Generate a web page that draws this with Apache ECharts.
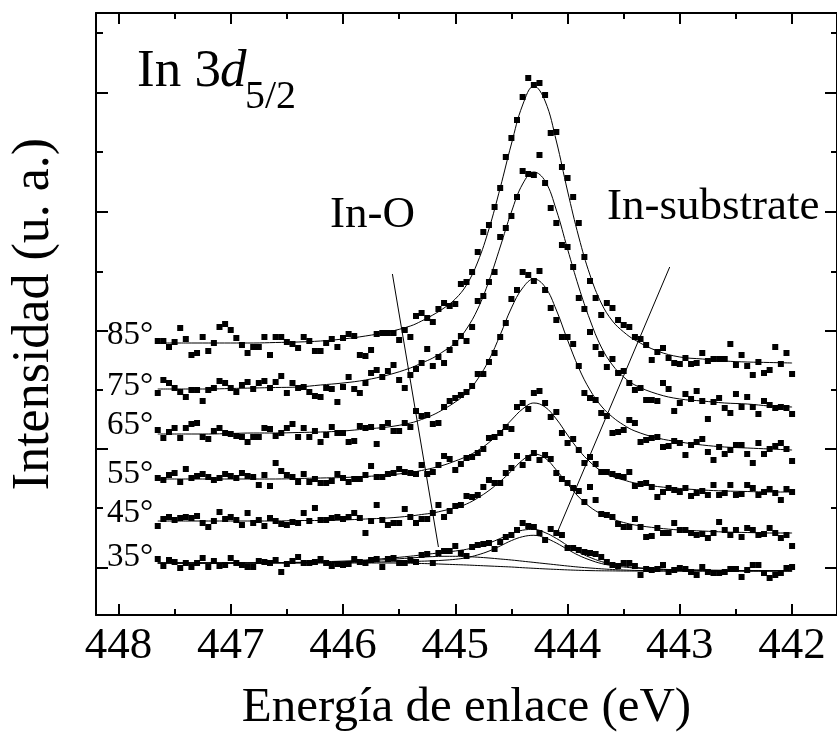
<!DOCTYPE html>
<html>
<head>
<meta charset="utf-8">
<title>In 3d5/2</title>
<script src="https://cdn.jsdelivr.net/npm/echarts@6.0.0/dist/echarts.min.js"></script>
<style>
html,body{margin:0;padding:0;background:#fff;}
#chart{width:837px;height:738px;}
</style>
</head>
<body>
<div id="chart"></div>
<script>
// ---------------- data (binding energy in eV, intensity in arbitrary units) ----------------
const energy = [447.65,447.6,447.55,447.5,447.45,447.4,447.35,447.3,447.25,447.2,447.15,447.1,447.05,447.0,
446.95,446.9,446.85,446.8,446.75,446.7,446.65,446.6,446.55,446.5,446.45,446.4,446.35,446.3,446.25,446.2,446.15,446.1,446.05,446.0,
445.95,445.9,445.85,445.8,445.75,445.7,445.65,445.6,445.55,445.5,445.45,445.4,445.35,445.3,445.25,445.2,445.15,445.1,445.05,445.0,
444.95,444.9,444.85,444.8,444.75,444.7,444.65,444.6,444.55,444.5,444.45,444.4,444.35,444.3,444.25,444.2,444.15,444.1,444.05,444.0,
443.95,443.9,443.85,443.8,443.75,443.7,443.65,443.6,443.55,443.5,443.45,443.4,443.35,443.3,443.25,443.2,443.15,443.1,443.05,443.0,
442.95,442.9,442.85,442.8,442.75,442.7,442.65,442.6,442.55,442.5,442.45,442.4,442.35,442.3,442.25,442.2,442.15,442.1,442.05,442.0];

const angles = ['85°','75°','65°','55°','45°','35°'];

const counts85 = [274,274,268,273,287,276,260,262,278,264,272,288,291,285,277,270,262,268,268,278,
260,278,278,273,271,267,278,274,264,264,272,276,268,277,281,279,260,259,265,281,
282,282,282,275,285,278,299,302,297,293,306,312,309,311,331,333,343,363,383,390,
408,427,458,477,495,518,537,530,532,520,482,483,448,437,418,392,358,334,317,300,
312,307,295,290,288,278,276,270,255,263,267,257,252,251,257,251,252,262,254,256,
256,256,271,250,260,249,240,253,242,245,268,251,262,241];
const counts75 = [222,235,232,227,223,218,225,225,214,225,227,234,232,227,223,230,233,226,232,234,
227,233,239,222,232,227,228,223,219,218,227,226,213,228,238,226,222,232,242,245,
238,244,250,235,227,240,246,252,266,249,258,252,265,272,279,274,288,314,319,333,
343,378,387,399,418,444,441,440,460,432,407,392,370,368,348,317,306,283,268,261,
248,256,242,244,232,225,227,215,215,214,232,226,204,212,221,216,224,214,196,213,
217,207,202,221,208,218,208,201,214,210,207,208,207,201];
const counts65 = [185,177,183,187,177,187,191,192,178,176,184,187,182,181,179,178,173,178,178,187,
186,179,182,187,191,178,187,178,184,173,180,188,182,182,173,174,189,187,188,171,
188,192,184,184,192,188,204,199,200,191,192,208,214,217,220,223,229,241,241,253,
262,278,292,316,325,343,340,334,344,325,307,295,278,278,271,249,222,217,215,202,
199,182,183,185,195,192,173,175,177,178,168,169,174,172,160,170,173,176,163,155,
168,161,165,170,170,161,152,172,161,166,169,172,166,154];
const counts55 = [137,135,140,142,133,146,137,139,141,138,135,137,141,139,137,142,139,138,130,140,
129,152,144,140,138,133,141,133,136,132,132,134,141,137,133,136,136,140,149,138,
138,141,142,146,143,142,141,150,141,143,150,159,156,145,151,157,158,162,166,177,
178,182,188,186,208,212,206,222,224,212,198,203,182,172,176,165,152,158,151,143,
143,141,139,138,143,129,131,132,128,118,123,127,125,123,127,119,122,124,120,130,
120,122,130,120,121,130,127,120,123,126,122,115,126,123];
const counts45 = [89,96,98,95,97,98,97,99,92,88,94,103,96,98,95,90,102,92,95,89,
97,94,91,90,93,92,102,94,107,95,95,97,98,96,98,102,97,82,94,110,
95,90,92,92,106,98,92,96,96,102,110,98,104,109,110,119,118,120,128,135,
132,132,142,147,159,150,157,162,155,160,156,142,136,132,127,124,113,128,115,101,
100,98,91,88,88,96,88,78,79,87,82,82,92,85,85,82,80,81,77,82,
93,85,80,85,78,87,85,80,81,87,82,77,80,69];
const counts35 = [56,49,55,53,47,52,48,52,57,48,54,49,50,57,52,50,48,48,54,53,
52,55,43,51,54,58,52,52,53,56,52,49,51,50,51,56,53,52,55,56,
48,56,57,52,52,55,53,60,61,52,62,64,64,69,62,59,68,70,71,72,
66,73,78,80,85,92,89,88,82,75,86,82,80,67,67,65,63,62,61,58,
53,50,49,52,52,49,40,46,45,46,50,43,45,47,46,43,40,48,43,42,
42,43,46,46,38,45,50,50,42,37,40,42,47,48];

// fitted envelopes
const fitEnergy = [447.65,447.4,447.2,447.0,446.8,446.6,446.4,446.2,446.0,445.8,445.6,
445.4,445.3,445.2,445.1,445.0,444.9,444.8,444.7,444.6,444.5,444.4,444.3,444.2,444.1,444.0,443.9,443.8,443.7,443.6,443.5,443.4,
443.2,443.0,442.8,442.6,442.4,442.2,442.0];
const fit85 = [272,272,272,272,272,272.5,273,274,276,279,283,
289,294,300,307,316,330,353,386,427,471,510,529,514,474,424,378,340,312,294,283,275,
264,258,256,254,253,252.5,252];
const fit75 = [226,226,226,226.5,227,227.5,228,230,232,235,240,
247,252,257,264,272,286,306,334,368,403,431,443,434,405,366,328,295,268,250,238,230,
221,216,214,212,211,209,208];
const fit65 = [181,181,181,181.5,182,182,182.5,183,184,186,188,
192,195.5,200,206,213,222,236,255,280,307,327,336,328,305,275,247,225,209,198,190,184,
177,173,170,168,167,166,165];
const fit55 = [136,136,136,136,136,136,136.5,137,137.5,138.5,140,
142.5,144.5,147,150,154,158.5,164.5,172.5,183,195,206,212,208,196,180,165,153,144,138.5,135,132,
128.5,126.5,125,124,123.5,123,123];
const fit45 = [94,94,94,94,94,94,94.5,94.5,95,96,97,
99,100.5,102,104.5,107,111,117,124.5,133.5,144,155,161,157,145,131,118,108,101,96,92.5,90,
87,85,84,83,82.5,82,82];
const fit35 = [52,52,52,52,52.1,52.4,52.7,53.2,53.9,55,56.7,
58.8,60.1,61.4,62.7,64,65.7,68.4,71.9,76.5,81.4,84.8,85.6,82.4,76.6,69.5,62.8,57.6,53.5,50.8,49,47.6,
46,45.2,44.8,44.6,44.4,44.3,44.2];
// 35° deconvolution: background, In-O component and In-substrate component (each drawn on top of the background)
const background35 = [52,52,52,52,52,52,52,52,52,52,52,
51.8,51.5,51.2,50.8,50.4,50,49.5,49,48.5,48,47.3,46.7,46.1,45.6,45.1,44.7,44.4,44.2,44.1,44,44,
44,44,44,44,44,44,44];
const inO35 = [52,52,52,52,52,52.2,52.4,52.8,53.3,54.2,55.5,
57,57.8,58.4,58.7,58.7,58.4,57.8,57,56,55,53.8,52.6,51.4,50.2,49,47.9,47,46.2,45.5,45,44.6,
44.2,44,44,44,44,44,44];
const inSubstrate35 = [52,52,52,52,52.1,52.2,52.3,52.4,52.6,52.8,53.2,
53.6,53.8,54.2,54.8,55.7,57.3,60.1,63.9,69,74.4,78.3,79.7,77.1,72,65.6,59.6,55,51.5,49.4,48,47,
45.8,45.2,44.8,44.6,44.4,44.3,44.2];

// axis ticks
const xMajorTicks = [448,447,446,445,444,443,442];
const xMinorTicks = [447.5,446.5,445.5,444.5,443.5,442.5];
const yMajorTicks = [47,166,284,403,522];
const yMinorTicks = [107,225,343,463,582];

// annotation arrows [start, end] in data coordinates
const arrowInO = [[445.56,341],[445.15,68]];
const arrowInSub = [[443.09,348],[444.09,83]];

// ---------------- chart ----------------
const FONT = '"Liberation Serif", "Times New Roman", serif';
const pair = (xs, ys) => xs.map((x, i) => [x, ys[i]]);
const countSets = [counts85, counts75, counts65, counts55, counts45, counts35];
const fitSets = [fit85, fit75, fit65, fit55, fit45, fit35];

const series = [];
countSets.forEach((arr, k) => {
  series.push({
    type: 'scatter', name: angles[k], data: pair(energy, arr),
    symbol: 'rect', symbolSize: 6, itemStyle: { color: '#000', opacity: 1 }, z: 3
  });
});
const lineOf = (name, ys, extra) => Object.assign({
  type: 'line', name: name, data: pair(fitEnergy, ys), smooth: 0.4,
  symbol: 'none', showSymbol: false, lineStyle: { color: '#000', width: 1 }, z: 2
}, extra || {});
fitSets.forEach((arr, k) => series.push(lineOf('fit ' + angles[k], arr)));
series.push(lineOf('fondo 35°', background35));
series.push(lineOf('In-O 35°', inO35));
series.push(lineOf('In-substrate 35°', inSubstrate35, {
  markLine: {
    silent: true, animation: false, symbol: ['none', 'arrow'], symbolSize: [0, 11],
    label: { show: false },
    lineStyle: { color: '#000', width: 1, type: 'solid' },
    data: [
      [{ coord: arrowInO[0] }, { coord: arrowInO[1] }],
      [{ coord: arrowInSub[0] }, { coord: arrowInSub[1] }]
    ]
  }
}));

const axisBase = (extra) => Object.assign({
  type: 'value', gridIndex: 0, splitLine: { show: false },
  axisLine: { show: false, onZero: false, lineStyle: { color: '#000', width: 2 } },
  axisLabel: { show: false }
}, extra);

const xCommon = { min: 441.6, max: 448.2, inverse: true };
const yCommon = { min: 0, max: 602 };

const option = {
  animation: false,
  backgroundColor: '#fff',
  grid: { left: 94, top: 13, width: 748, height: 602, containLabel: false },
  xAxis: [
    axisBase(Object.assign({}, xCommon, {
      position: 'bottom',
      axisLine: { show: true, onZero: false, lineStyle: { color: '#000', width: 2 } },
      axisTick: { show: true, inside: true, length: 11, customValues: xMajorTicks, lineStyle: { color: '#000', width: 2 } },
      axisLabel: { show: true, customValues: xMajorTicks, margin: 9, color: '#000', fontSize: 45, fontFamily: FONT },
      name: 'Energía de enlace (eV)', nameLocation: 'middle', nameGap: 69,
      nameTextStyle: { color: '#000', fontSize: 49, fontFamily: FONT }
    })),
    axisBase(Object.assign({}, xCommon, {
      position: 'bottom',
      axisTick: { show: true, inside: true, length: 6, customValues: xMinorTicks, lineStyle: { color: '#000', width: 2 } }
    })),
    axisBase(Object.assign({}, xCommon, {
      position: 'top',
      axisLine: { show: true, onZero: false, lineStyle: { color: '#000', width: 2 } },
      axisTick: { show: true, inside: true, length: 11, customValues: xMajorTicks, lineStyle: { color: '#000', width: 2 } }
    })),
    axisBase(Object.assign({}, xCommon, {
      position: 'top',
      axisTick: { show: true, inside: true, length: 6, customValues: xMinorTicks, lineStyle: { color: '#000', width: 2 } }
    }))
  ],
  yAxis: [
    axisBase(Object.assign({}, yCommon, {
      position: 'left',
      axisLine: { show: true, onZero: false, lineStyle: { color: '#000', width: 2 } },
      axisTick: { show: true, inside: true, length: 12, customValues: yMajorTicks, lineStyle: { color: '#000', width: 2 } },
      name: 'Intensidad (u. a.)', nameLocation: 'middle', nameGap: 36, nameRotate: 90,
      nameTextStyle: { color: '#000', fontSize: 52, fontFamily: FONT }
    })),
    axisBase(Object.assign({}, yCommon, {
      position: 'left',
      axisTick: { show: true, inside: true, length: 7, customValues: yMinorTicks, lineStyle: { color: '#000', width: 2 } }
    })),
    axisBase(Object.assign({}, yCommon, {
      position: 'right',
      axisLine: { show: true, onZero: false, lineStyle: { color: '#000', width: 2 } },
      axisTick: { show: true, inside: true, length: 12, customValues: yMajorTicks, lineStyle: { color: '#000', width: 2 } }
    })),
    axisBase(Object.assign({}, yCommon, {
      position: 'right',
      axisTick: { show: true, inside: true, length: 6, customValues: yMinorTicks, lineStyle: { color: '#000', width: 2 } }
    }))
  ],
  graphic: [],
  series: series
};

const txt = (text, x, y, size, italic) => ({
  type: 'text', x: x, y: y, silent: true, z: 10,
  style: {
    text: text, fill: '#000',
    font: (italic ? 'italic ' : '') + size + 'px ' + FONT,
    align: 'left', verticalAlign: 'middle', textAlign: 'left', textVerticalAlign: 'middle'
  }
});
option.graphic.push(txt('In 3', 137, 72, 53, false));
option.graphic.push(txt('d', 220, 72, 53, true));
option.graphic.push(txt('5/2', 245, 97, 40, false));
option.graphic.push(txt('In-O', 330, 215, 45, false));
option.graphic.push(txt('In-substrate', 607, 207, 45, false));
const labelY = [335, 386, 425, 474, 513, 557];
angles.forEach((a, k) => option.graphic.push(txt(a, 107, labelY[k], 33, false)));

const chart = echarts.init(document.getElementById('chart'), null, { renderer: 'canvas' });
chart.setOption(option);
</script>
</body>
</html>
